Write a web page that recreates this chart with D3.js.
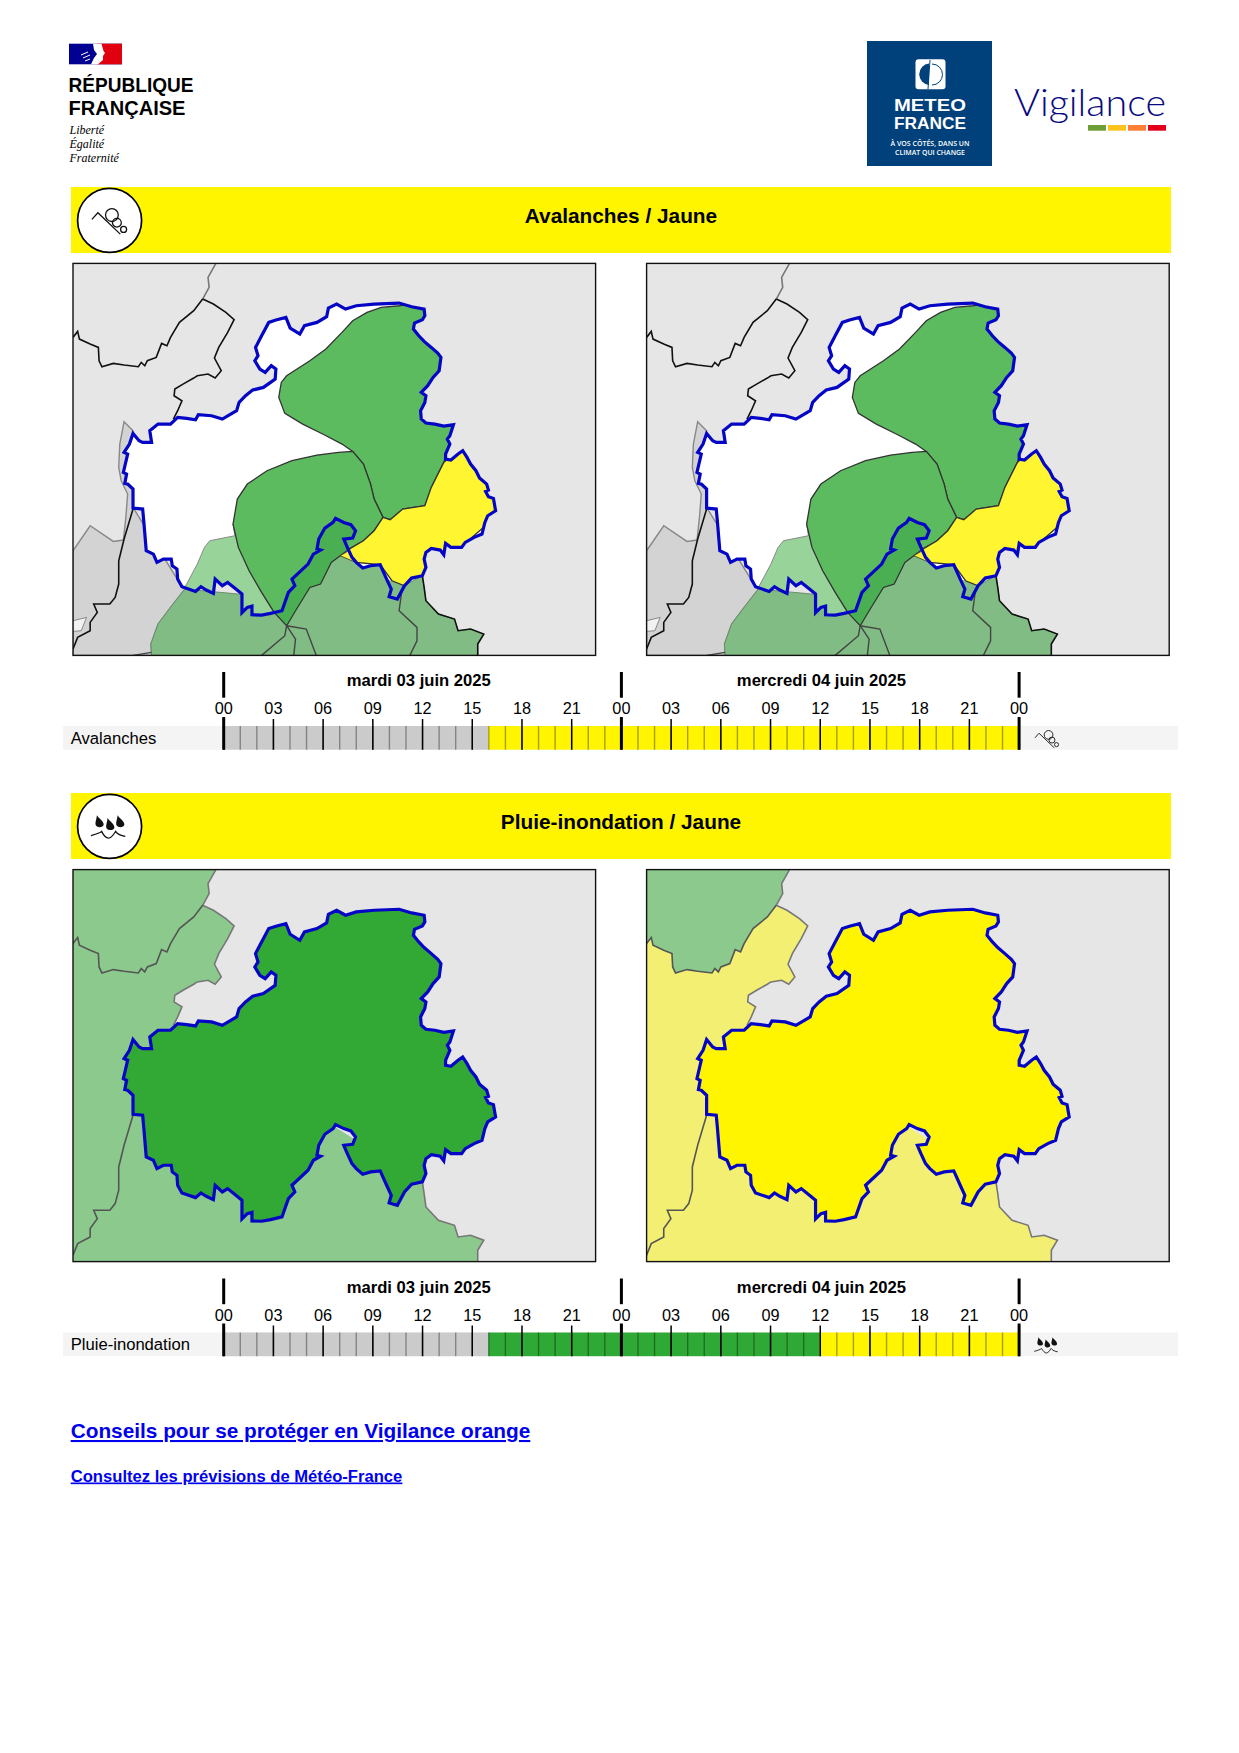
<!DOCTYPE html>
<html>
<head>
<meta charset="utf-8">
<script src="https://cdn.jsdelivr.net/npm/d3@7"></script>
<style>
  body { margin: 0; background: #fff; }
  svg { display: block; font-family: "Liberation Sans", Arial, sans-serif; }
  .axis .domain { display: none; }
</style>
</head>
<body>
<div id="page"></div>
<script>
// Map outlines in map units (x 37-1500, y 28-1204)
const deptOutline = [[1020,165],[1022,185],[1015,197],[993,207],[990,225],[1005,245],[1020,262],[1040,280],[1058,297],[1067,310],[1062,350],[1045,370],[1030,395],[1012,415],[1025,425],[1022,445],[1010,470],[1012,495],[1025,507],[1050,510],[1075,516],[1102,512],[1092,545],[1085,555],[1092,570],[1080,600],[1080,615],[1095,618],[1115,600],[1128,590],[1140,610],[1150,630],[1165,650],[1175,672],[1195,690],[1200,708],[1192,712],[1200,728],[1214,733],[1220,770],[1198,785],[1190,805],[1182,840],[1160,850],[1135,865],[1125,880],[1095,880],[1080,868],[1075,902],[1065,888],[1040,883],[1025,895],[1020,915],[1025,940],[1015,965],[985,972],[965,995],[945,1035],[922,1028],[928,1005],[915,975],[897,932],[870,935],[848,942],[830,925],[818,910],[805,880],[795,855],[820,852],[828,830],[815,812],[795,805],[772,793],[765,805],[742,822],[725,855],[720,885],[730,888],[710,900],[695,930],[665,960],[650,975],[658,995],[640,1015],[622,1070],[590,1078],[565,1083],[538,1082],[538,1056],[525,1060],[510,1076],[510,1020],[493,1005],[470,985],[455,995],[435,975],[430,1018],[410,1008],[395,998],[380,1012],[342,998],[330,975],[328,945],[315,935],[312,915],[290,915],[272,925],[262,900],[242,890],[235,800],[232,765],[205,762],[205,705],[190,690],[182,688],[187,660],[178,655],[190,600],[180,595],[195,570],[205,538],[222,560],[232,565],[257,565],[252,530],[275,510],[310,510],[330,490],[355,493],[380,497],[388,482],[425,485],[455,495],[495,470],[502,445],[520,425],[540,408],[570,400],[603,375],[605,345],[592,335],[575,355],[560,345],[546,320],[555,305],[548,280],[565,245],[585,205],[605,198],[633,190],[645,222],[672,240],[685,215],[720,205],[747,188],[752,162],[775,150],[800,165],[830,155],[880,150],[950,147],[985,158],[1020,165]];
const northBorder = [[437,28],[415,70],[418,100],[400,135]];
const upperLeftBorder = [[400,135],[375,170],[335,205],[310,250],[300,275],[285,268],[270,310],[245,320],[238,335],[228,325],[220,338],[180,333],[150,328],[118,338],[110,320],[108,280],[85,270],[55,255],[50,232],[37,250]];
const middleBorder = [[400,135],[430,150],[465,175],[488,197],[470,235],[445,280],[433,312],[452,350],[435,372],[415,360],[385,365],[375,372],[345,390],[322,405],[320,425],[342,440],[330,470],[318,495]];
const eastBorder = [[1015,965],[1020,1000],[1025,1040],[1060,1080],[1105,1095],[1115,1130],[1150,1125],[1187,1140],[1170,1170],[1170,1204]];
const southWestBorder = [[205,765],[180,855],[165,920],[165,990],[155,1030],[140,1050],[95,1050],[105,1075],[85,1105],[85,1130],[50,1150],[37,1185]];

const greyZone = [[180,503],[205,530],[205,760],[342,998],[350,1005],[310,1060],[275,1110],[255,1170],[257,1204],[37,1204],[37,890],[85,815],[150,862],[178,858],[185,790],[190,720],[172,680],[165,640],[168,570]];
const lake = [[37,1100],[75,1090],[60,1130],[37,1132]];
const southZone = [[350,1005],[310,1060],[275,1110],[255,1170],[257,1204],[1170,1204],[1170,1170],[1187,1140],[1150,1125],[1115,1130],[1105,1095],[1060,1080],[1025,1040],[1020,1000],[1015,965],[965,995],[890,930],[785,905],[760,925],[730,990],[700,1000],[660,1070],[635,1115],[600,1075],[500,1020]];
const southLines = [
  [[635,1115],[630,1145],[565,1204]],
  [[635,1115],[660,1155],[655,1204]],
  [[635,1115],[690,1125],[718,1204]],
  [[960,990],[950,1070],[1000,1120],[1000,1160],[980,1204]],
  [[205,1204],[257,1195]]
];
const pocketZone = [[820,792],[850,860],[810,885],[785,905],[760,925],[730,990],[700,1000],[660,1070],[635,1115],[600,1075],[640,950],[720,800]];
const sliver = [[785,905],[812,888],[835,928]];
const tipZone = [[915,975],[965,995],[950,1045],[910,1040]];
const lightZone = [[490,845],[420,860],[405,880],[385,930],[345,1010],[520,1095],[605,1095],[600,1075],[565,1015],[530,950],[500,880],[485,810]];
const northZone = [[950,155],[900,160],[860,175],[820,200],[790,235],[745,285],[700,320],[635,365],[620,385],[613,430],[630,478],[680,510],[740,542],[790,570],[820,592],[850,630],[870,690],[880,735],[905,790],[925,797],[960,765],[1022,755],[1040,700],[1075,625],[1110,520],[1100,300],[1040,140]];
const midZone = [[820,592],[780,595],[720,603],[650,620],[580,650],[525,690],[497,735],[485,810],[500,880],[530,950],[565,1015],[600,1075],[635,1115],[660,1070],[700,1000],[730,990],[760,925],[785,905],[810,885],[850,860],[880,830],[905,790],[880,735],[870,690],[850,630]];
const yellowZone = [[1075,625],[1040,700],[1022,755],[960,765],[925,797],[905,790],[880,830],[850,860],[810,885],[785,905],[830,925],[897,932],[930,980],[965,995],[1030,980],[1100,900],[1240,770],[1130,570]];

// timeline data
const hourTicks = d3.range(0, 49, 3);
const everyHour = d3.range(0, 49);
const dayBreaks = [0, 24, 48];
const dateLabels = ["mardi 03 juin 2025", "mercredi 04 juin 2025"];
const dateHours = [11.8, 36.1];
const levels = ["past", "vert", "jaune"];
const levelColors = ["#cbcbcb", "#2fa935", "#fff500"];
const avalanchePeriods = [{from: 0, to: 16, level: "past"}, {from: 16, to: 48, level: "jaune"}];
const pluiePeriods = [{from: 0, to: 16, level: "past"}, {from: 16, to: 36, level: "vert"}, {from: 36, to: 48, level: "jaune"}];

const colorLevel = d3.scaleOrdinal().domain(levels).range(levelColors);

const svg = d3.select("#page").append("svg").attr("width", 1239).attr("height", 1753);

const xHour = d3.scaleLinear().domain([0, 48]).range([223.2, 1018.6]);
const mapX = d3.scaleLinear().domain([37, 1500]).range([0, 522.6]);
const mapY = d3.scaleLinear().domain([28, 1204]).range([0, 392]);
const mapLine = d3.line().x(d => mapX(d[0])).y(d => mapY(d[1]));
const mapArea = pts => mapLine(pts) + "Z";

drawLogos();

// sections
drawBanner(0, "Avalanches / Jaune", drawAvalancheIcon);
drawAvalancheMap(73, 263.4, "m1");
drawAvalancheMap(646.6, 263.4, "m2");
drawTimeline(0, "Avalanches", avalanchePeriods, drawAvalancheIcon);

drawBanner(606, "Pluie-inondation / Jaune", drawRainIcon);
drawRainMap(73, 869.6, "#32a935", "#8cc98d", "#8cc98d");
drawRainMap(646.6, 869.6, "#fff500", "#f3ef72", "#8cc98d");
drawTimeline(606.5, "Pluie-inondation", pluiePeriods, drawRainIcon);

// links
svg.append("text").attr("x", 70.7).attr("y", 1438).attr("font-size", 20.8).attr("font-weight", "bold")
  .attr("fill", "#0000ee").attr("text-decoration", "underline").text("Conseils pour se protéger en Vigilance orange");
svg.append("text").attr("x", 70.7).attr("y", 1481.5).attr("font-size", 16.64).attr("font-weight", "bold")
  .attr("fill", "#0000ee").attr("text-decoration", "underline").text("Consultez les prévisions de Météo-France");

function drawBanner(dy, title, icon) {
  const g = svg.append("g").attr("transform", `translate(0,${dy})`);
  g.append("rect").attr("x", 71).attr("y", 187).attr("width", 1100).attr("height", 66).attr("fill", "#fff500");
  g.append("circle").attr("cx", 109.6).attr("cy", 220.4).attr("r", 32).attr("fill", "#fff").attr("stroke", "#000").attr("stroke-width", 1.7);
  icon(g.append("g").attr("transform", "translate(109.6,220.4)"));
  g.append("text").attr("x", 621).attr("y", 223.2).attr("text-anchor", "middle").attr("font-size", 20.8).attr("font-weight", "bold").text(title);
}

function drawAvalancheIcon(g) {
  g.append("path").attr("d", "M-17.7,-1L-11.7,-7.7L10.7,13.7").attr("fill", "none").attr("stroke", "#111").attr("stroke-width", 1.3);
  [[2.3, -5.3, 6.4], [7.3, 2.3, 4.4], [14, 9, 3]].forEach(c => {
    g.append("circle").attr("cx", c[0]).attr("cy", c[1]).attr("r", c[2]).attr("fill", "none").attr("stroke", "#111").attr("stroke-width", 1.3);
  });
}

function drawRainIcon(g) {
  [[-10, -4.5], [0.7, -1.7], [10.7, -4.5]].forEach(c => {
    g.append("path").attr("transform", `translate(${c[0]},${c[1]}) scale(1.35)`)
      .attr("d", "M-2,-5C-1,-3 3.4,-0.5 3,2.2C2.6,4.6 -2.4,4.6 -3,2C-3.4,0 -2.2,-2 -2,-5Z").attr("fill", "#111");
  });
  g.append("path").attr("d", "M-18.7,9.3C-14,8 -10,7 -8,5C-6,9 -3,11.7 -1,11.7C2,11.7 4,8 6,5C8,8 12,9.5 15.7,10")
    .attr("fill", "none").attr("stroke", "#111").attr("stroke-width", 1.3);
}

function drawAvalancheMap(x0, y0, id) {
  const g = svg.append("g").attr("transform", `translate(${x0},${y0})`);
  g.append("clipPath").attr("id", "frame-" + id).append("rect").attr("width", 522.6).attr("height", 392);
  g.append("clipPath").attr("id", "dept-" + id).append("path").attr("d", mapArea(deptOutline));
  const inner = g.append("g").attr("clip-path", `url(#frame-${id})`);
  inner.append("rect").attr("width", 522.6).attr("height", 392).attr("fill", "#e6e6e6");
  inner.append("path").attr("d", mapArea(greyZone)).attr("fill", "#d3d3d3").attr("stroke", "#888").attr("stroke-width", 1.4);
  inner.append("path").attr("d", mapArea(lake)).attr("fill", "#f2f2f2").attr("stroke", "#888");
  inner.append("path").attr("d", mapArea(southZone)).attr("fill", "#80bc84").attr("stroke", "#6a8f6e").attr("stroke-width", 1);
  inner.append("path").attr("d", mapArea(pocketZone)).attr("fill", "#4aae52").attr("stroke", "#333").attr("stroke-width", 1.2);
  inner.append("path").attr("d", mapArea(sliver)).attr("fill", "#fff530").attr("stroke", "#333").attr("stroke-width", 0.8);
  southLines.forEach(l => inner.append("path").attr("d", mapLine(l)).attr("fill", "none").attr("stroke", "#444").attr("stroke-width", 1.4));

  inner.append("path").attr("d", mapArea(deptOutline)).attr("fill", "#fff");
  const dept = inner.append("g").attr("clip-path", `url(#dept-${id})`);
  dept.append("path").attr("d", mapArea(lightZone)).attr("fill", "#98d49a").attr("stroke", "#888").attr("stroke-width", 1);
  dept.append("path").attr("d", mapArea(tipZone)).attr("fill", "#80bc84");
  [[northZone, "#5cba5f"], [midZone, "#5cba5f"], [yellowZone, "#fff530"]].forEach(z => {
    dept.append("path").attr("d", mapArea(z[0])).attr("fill", z[1]).attr("stroke", "#333").attr("stroke-width", 1.3);
  });

  inner.append("path").attr("d", mapLine(northBorder)).attr("fill", "none").attr("stroke", "#777").attr("stroke-width", 1.6);
  [upperLeftBorder, middleBorder, eastBorder, southWestBorder].forEach(l => {
    inner.append("path").attr("d", mapLine(l)).attr("fill", "none").attr("stroke", "#111").attr("stroke-width", 1.6);
  });
  inner.append("path").attr("d", mapArea(deptOutline)).attr("fill", "none").attr("stroke", "#0505c5").attr("stroke-width", 3.2);
  g.append("rect").attr("width", 522.6).attr("height", 392).attr("fill", "none").attr("stroke", "#111").attr("stroke-width", 1.4);
}

function drawRainMap(x0, y0, deptColor, zoneColor, cornerColor) {
  const g = svg.append("g").attr("transform", `translate(${x0},${y0})`);
  const id = "r" + Math.round(x0);
  g.append("clipPath").attr("id", "frame-" + id).append("rect").attr("width", 522.6).attr("height", 392);
  const inner = g.append("g").attr("clip-path", `url(#frame-${id})`);
  inner.append("rect").attr("width", 522.6).attr("height", 392).attr("fill", "#e6e6e6");
  const zone = [[37, 28]].concat(northBorder, middleBorder.slice(1), eastBorder, [[37, 1204]]);
  inner.append("path").attr("d", mapArea(zone)).attr("fill", zoneColor);
  const corner = [[37, 28]].concat(northBorder, upperLeftBorder.slice(1));
  inner.append("path").attr("d", mapArea(corner)).attr("fill", cornerColor);
  [northBorder, middleBorder, eastBorder].forEach(l => {
    inner.append("path").attr("d", mapLine(l)).attr("fill", "none").attr("stroke", "#777").attr("stroke-width", 1.6);
  });
  [upperLeftBorder, southWestBorder].forEach(l => {
    inner.append("path").attr("d", mapLine(l)).attr("fill", "none").attr("stroke", "#555").attr("stroke-width", 1.6);
  });
  inner.append("path").attr("d", mapArea(deptOutline)).attr("fill", deptColor).attr("stroke", "#0505c5").attr("stroke-width", 3.2);
  g.append("rect").attr("width", 522.6).attr("height", 392).attr("fill", "none").attr("stroke", "#111").attr("stroke-width", 1.4);
}

function drawTimeline(dy, label, periods, icon) {
  const g = svg.append("g").attr("transform", `translate(0,${dy})`);
  const rowTop = 726, rowBottom = 749.7;
  g.append("rect").attr("x", 63).attr("y", rowTop).attr("width", 1115).attr("height", rowBottom - rowTop).attr("fill", "#f4f4f4");
  g.append("text").attr("x", 70.7).attr("y", 743.5).attr("font-size", 16.64).text(label);

  g.selectAll(".period").data(periods).join("rect").attr("class", "period")
    .attr("x", d => xHour(d.from)).attr("y", rowTop)
    .attr("width", d => xHour(d.to) - xHour(d.from)).attr("height", rowBottom - rowTop)
    .attr("fill", d => colorLevel(d.level));

  // hourly ticks, faint and inside the row
  const minor = g.append("g").attr("class", "axis").attr("transform", `translate(0,${rowBottom})`)
    .call(d3.axisTop(xHour).tickValues(everyHour).tickSize(rowBottom - rowTop).tickFormat(""));
  minor.selectAll("line").attr("stroke", "#000").attr("stroke-opacity", 0.35).attr("stroke-width", 1.4);

  // 3-hour ticks with their labels
  const major = g.append("g").attr("class", "axis").attr("transform", `translate(0,${rowBottom})`)
    .call(d3.axisTop(xHour).tickValues(hourTicks).tickSize(30.7).tickPadding(4.7).tickFormat(h => d3.format("02")(h % 24)));
  major.selectAll("line").attr("stroke", "#000").attr("stroke-width", 1.5);
  major.selectAll("text").attr("font-size", 16.3).attr("font-family", "Liberation Sans").attr("fill", "#000");

  // day breaks: upper piece beside the date, lower piece through the row
  g.selectAll(".dayUp").data(dayBreaks).join("line").attr("class", "dayUp")
    .attr("x1", d => xHour(d) + 0.5).attr("x2", d => xHour(d) + 0.5).attr("y1", 672).attr("y2", 697.7)
    .attr("stroke", "#000").attr("stroke-width", 3);
  g.selectAll(".dayDown").data(dayBreaks).join("line").attr("class", "dayDown")
    .attr("x1", d => xHour(d) + 0.5).attr("x2", d => xHour(d) + 0.5).attr("y1", 717).attr("y2", rowBottom)
    .attr("stroke", "#000").attr("stroke-width", 3);

  g.selectAll(".dateLabel").data(dateLabels).join("text").attr("class", "dateLabel")
    .attr("x", (d, i) => xHour(dateHours[i])).attr("y", 686)
    .attr("text-anchor", "middle").attr("font-size", 16.64).attr("font-weight", "bold").text(d => d);

  icon(g.append("g").attr("transform", "translate(1047,738.5) scale(0.68)"));
}

function drawLogos() {
  // République française
  const rf = svg.append("g");
  rf.append("rect").attr("x", 69).attr("y", 43.7).attr("width", 53).attr("height", 20.6).attr("fill", "#000091");
  rf.append("rect").attr("x", 97).attr("y", 43.7).attr("width", 25).attr("height", 20.6).attr("fill", "#e1000f");
  rf.append("path").attr("d", "M93,43.7H101.5L103.5,51L105,53L103,56L103,60L98,64.3H91L94,58L97,54L94,50Z").attr("fill", "#fff");
  rf.append("path").attr("d", "M81,55L88,52M83,58L90,55M85,61L90,59").attr("stroke", "#fff").attr("stroke-width", 1).attr("fill", "none");
  rf.append("text").attr("x", 68.5).attr("y", 91.5).attr("font-family", "Liberation Sans").attr("font-weight", "bold").attr("font-size", 20)
    .attr("textLength", 125).attr("lengthAdjust", "spacingAndGlyphs").text("RÉPUBLIQUE");
  rf.append("text").attr("x", 68.5).attr("y", 114.5).attr("font-family", "Liberation Sans").attr("font-weight", "bold").attr("font-size", 20)
    .attr("textLength", 117).attr("lengthAdjust", "spacingAndGlyphs").text("FRANÇAISE");
  ["Liberté", "Égalité", "Fraternité"].forEach((t, i) => {
    rf.append("text").attr("x", 69.5).attr("y", [134, 148, 161.7][i]).attr("font-family", "Liberation Serif")
      .attr("font-style", "italic").attr("font-size", 12).text(t);
  });

  // Météo-France block
  const mf = svg.append("g");
  mf.append("rect").attr("x", 867).attr("y", 41).attr("width", 125).attr("height", 125).attr("fill", "#00417b");
  mf.append("rect").attr("x", 915.5).attr("y", 59.3).attr("width", 30).attr("height", 30).attr("rx", 3).attr("fill", "#fff");
  mf.append("path").attr("d", "M929,63.5A10.8,10.8 0 0 0 929,85Z").attr("fill", "#00417b");
  mf.append("path").attr("d", "M932,64A10.5,10.5 0 0 1 932,85M930,60L928,89").attr("fill", "none").attr("stroke", "#00417b").attr("stroke-width", 1);
  mf.append("text").attr("x", 930).attr("y", 110.7).attr("text-anchor", "middle").attr("fill", "#fff").attr("font-family", "Liberation Sans")
    .attr("font-weight", "bold").attr("font-size", 16).attr("textLength", 72).attr("lengthAdjust", "spacingAndGlyphs").text("METEO");
  mf.append("text").attr("x", 930).attr("y", 129.3).attr("text-anchor", "middle").attr("fill", "#fff").attr("font-family", "Liberation Sans")
    .attr("font-weight", "bold").attr("font-size", 16).attr("textLength", 72).attr("lengthAdjust", "spacingAndGlyphs").text("FRANCE");
  mf.append("text").attr("x", 930).attr("y", 145.7).attr("text-anchor", "middle").attr("fill", "#fff").attr("font-family", "Open Sans")
    .attr("font-weight", "600").attr("font-size", 6.6).attr("textLength", 79).attr("lengthAdjust", "spacingAndGlyphs").text("À VOS CÔTÉS, DANS UN");
  mf.append("text").attr("x", 930).attr("y", 154.7).attr("text-anchor", "middle").attr("fill", "#fff").attr("font-family", "Open Sans")
    .attr("font-weight", "600").attr("font-size", 6.6).attr("textLength", 70).attr("lengthAdjust", "spacingAndGlyphs").text("CLIMAT QUI CHANGE");

  // Vigilance wordmark
  mf.append("text").attr("x", 1014).attr("y", 116).attr("fill", "#0a0a80").attr("font-family", "Lato").attr("font-weight", 300).attr("font-size", 37)
    .attr("textLength", 152).attr("lengthAdjust", "spacingAndGlyphs").text("Vigilance");
  ["#6e9e36", "#fcc31c", "#ff7f36", "#e2001a"].forEach((c, i) => {
    mf.append("rect").attr("x", 1088 + i * 20).attr("y", 125).attr("width", 18).attr("height", 5.7).attr("fill", c);
  });
}
</script>
</body>
</html>
